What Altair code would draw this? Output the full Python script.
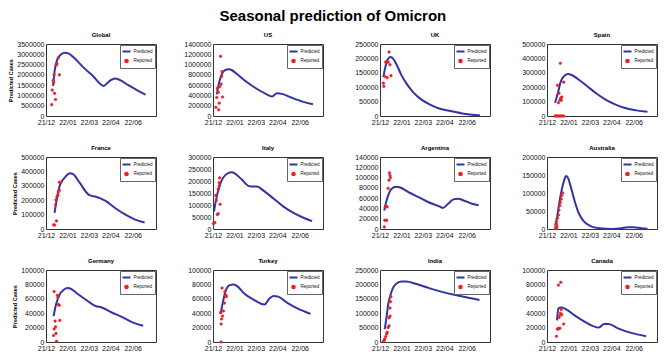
import altair as alt
import pandas as pd

BASE = pd.Timestamp("2021-12-01")

COUNTRIES = ["Global", "US", "UK", "Spain", "France", "Italy",
             "Argentina", "Australia", "Germany", "Turkey", "India", "Canada"]
Y_MAX = [3500000, 1400000, 250000, 500000, 500000, 300000,
         140000, 200000, 100000, 100000, 250000, 100000]
Y_STEP = [500000, 200000, 50000, 100000, 100000, 50000,
          20000, 50000, 20000, 20000, 50000, 20000]

# days since 2021-12-01 ; values in thousands of cases
GLOBAL_PRED_DAY = [15, 18, 24, 32, 40, 48, 59, 77, 99, 121, 128, 136, 145, 154, 172, 191, 209]
GLOBAL_PRED_VAL = [1460, 2170, 2760, 3000, 3080, 3030, 2830, 2400, 1930, 1460, 1590, 1740, 1820, 1760, 1510, 1260, 1040]
GLOBAL_REP_DAY = [12, 13, 15, 16, 17, 18, 20, 22, 23, 26, 28]
GLOBAL_REP_VAL = [550, 1260, 1730, 1620, 2000, 1100, 800, 2480, 2540, 2830, 2000]

US_PRED_DAY = [8, 12, 18, 25, 33, 40, 51, 68, 90, 111, 124, 134, 145, 164, 188, 210]
US_PRED_VAL = [420, 620, 800, 890, 910, 890, 810, 680, 540, 430, 380, 440, 430, 360, 280, 230]
US_REP_DAY = [6, 8, 9, 11, 12, 13, 14, 16, 17, 18, 19, 20]
US_REP_VAL = [170, 360, 540, 460, 120, 250, 570, 1160, 620, 770, 860, 370]

UK_PRED_DAY = [7, 15, 22, 28, 35, 45, 55, 69, 83, 104, 124, 145, 173, 210]
UK_PRED_VAL = [135, 192, 205, 198, 178, 142, 114, 84, 62, 40, 26, 18, 9, 2]
UK_REP_DAY = [7, 8, 10, 12, 14, 15, 17, 19, 21, 23]
UK_REP_VAL = [114, 103, 137, 187, 189, 133, 187, 222, 178, 140]

SPAIN_PRED_DAY = [17, 24, 28, 35, 44, 52, 64, 84, 103, 123, 143, 162, 188, 211]
SPAIN_PRED_VAL = [92, 175, 230, 274, 292, 285, 259, 208, 158, 114, 81, 57, 39, 29]
SPAIN_REP_DAY = [17, 19, 21, 22, 23, 24, 25, 26, 27, 28, 28, 29, 30, 30, 31, 33, 35, 35]
SPAIN_REP_VAL = [0, 0, 0, 213, 0, 92, 158, 0, 110, 366, 0, 125, 110, 0, 132, 0, 235, 0]

FRANCE_PRED_DAY = [18, 23, 29, 40, 50, 57, 70, 91, 105, 125, 145, 166, 186, 207]
FRANCE_PRED_VAL = [112, 213, 303, 359, 388, 381, 325, 235, 224, 195, 146, 101, 67, 45]
FRANCE_REP_DAY = [16, 18, 20, 21, 22, 23, 25, 26, 28, 28, 31]
FRANCE_REP_VAL = [29, 27, 168, 202, 56, 224, 235, 258, 269, 325, 325]

ITALY_PRED_DAY = [2, 7, 14, 21, 32, 39, 46, 60, 74, 81, 92, 106, 127, 148, 169, 190, 208]
ITALY_PRED_VAL = [73, 127, 180, 213, 233, 236, 231, 207, 180, 177, 177, 160, 127, 93, 67, 47, 33]
ITALY_REP_DAY = [1, 4, 6, 7, 9, 11, 11, 13, 13, 14, 15]
ITALY_REP_VAL = [23, 27, 140, 120, 60, 64, 167, 180, 193, 213, 103]

ARG_PRED_DAY = [9, 12, 17, 24, 34, 41, 61, 81, 102, 122, 132, 143, 153, 163, 177, 190, 207]
ARG_PRED_VAL = [36, 49, 65, 78, 82, 81, 71, 62, 52, 45, 41, 49, 57, 59, 55, 50, 46]
ARG_REP_DAY = [9, 10, 11, 12, 13, 14, 15, 17, 19, 20, 21, 22]
ARG_REP_VAL = [4, 17, 43, 17, 44, 17, 43, 79, 95, 109, 104, 100]

AUS_PRED_DAY = [17, 22, 26, 31, 36, 40, 44, 50, 58, 67, 77, 90, 110, 136, 156, 169, 182, 198, 211]
AUS_PRED_VAL = [9, 39, 74, 109, 135, 147, 142, 117, 78, 43, 22, 9, 2, 0, 2, 5, 5, 2, 0.5]
AUS_REP_DAY = [18, 19, 20, 20, 21, 22, 24, 25, 27, 28, 30, 31, 33]
AUS_REP_VAL = [4, 1, 13, 20, 6, 30, 39, 52, 65, 74, 83, 93, 100]

GER_PRED_DAY = [16, 21, 28, 38, 45, 52, 66, 83, 104, 117, 138, 159, 183, 204]
GER_PRED_VAL = [36, 52, 65, 73, 75, 74, 67, 59, 50, 48, 41, 35, 27, 22.5]
GER_REP_DAY = [16, 17, 17, 19, 20, 21, 22, 24, 25, 26, 28, 29]
GER_REP_VAL = [9, 18, 70, 29, 21, 12, 1, 65, 62, 52, 51, 30]

TUR_PRED_DAY = [16, 21, 27, 35, 43, 50, 66, 85, 108, 118, 127, 137, 157, 176, 205]
TUR_PRED_VAL = [39, 56, 72, 79, 80, 78, 67, 59, 52, 60, 64, 63, 54, 47, 39]
TUR_REP_DAY = [16, 17, 17, 18, 19, 20, 22, 24, 25, 26, 27, 28]
TUR_REP_VAL = [41, 25, 0, 32, 75, 36, 43, 54, 70, 65, 65, 63]

IND_PRED_DAY = [10, 14, 17, 22, 27, 34, 45, 55, 75, 103, 130, 158, 185, 209]
IND_PRED_VAL = [45, 90, 129, 163, 187, 202, 210, 210, 202, 187, 174, 163, 154, 146]
IND_REP_DAY = [7, 9, 10, 12, 14, 15, 17, 19, 19, 21, 21, 22, 23]
IND_REP_VAL = [2, 6, 11, 19, 28, 34, 50, 56, 84, 90, 118, 140, 157]

CAN_PRED_DAY = [21, 24, 31, 41, 58, 77, 97, 109, 120, 129, 149, 175, 208]
CAN_PRED_VAL = [30, 47, 48, 45, 37, 29, 22, 20, 25, 25, 19, 13, 8]
CAN_REP_DAY = [20, 22, 23, 24, 24, 25, 26, 27, 28, 29, 30, 31, 35]
CAN_REP_VAL = [8, 18, 18, 79, 19, 34, 36, 19, 40, 83, 45, 38, 25]

SERIES = {
    "Global": (GLOBAL_PRED_DAY, GLOBAL_PRED_VAL, GLOBAL_REP_DAY, GLOBAL_REP_VAL),
    "US": (US_PRED_DAY, US_PRED_VAL, US_REP_DAY, US_REP_VAL),
    "UK": (UK_PRED_DAY, UK_PRED_VAL, UK_REP_DAY, UK_REP_VAL),
    "Spain": (SPAIN_PRED_DAY, SPAIN_PRED_VAL, SPAIN_REP_DAY, SPAIN_REP_VAL),
    "France": (FRANCE_PRED_DAY, FRANCE_PRED_VAL, FRANCE_REP_DAY, FRANCE_REP_VAL),
    "Italy": (ITALY_PRED_DAY, ITALY_PRED_VAL, ITALY_REP_DAY, ITALY_REP_VAL),
    "Argentina": (ARG_PRED_DAY, ARG_PRED_VAL, ARG_REP_DAY, ARG_REP_VAL),
    "Australia": (AUS_PRED_DAY, AUS_PRED_VAL, AUS_REP_DAY, AUS_REP_VAL),
    "Germany": (GER_PRED_DAY, GER_PRED_VAL, GER_REP_DAY, GER_REP_VAL),
    "Turkey": (TUR_PRED_DAY, TUR_PRED_VAL, TUR_REP_DAY, TUR_REP_VAL),
    "India": (IND_PRED_DAY, IND_PRED_VAL, IND_REP_DAY, IND_REP_VAL),
    "Canada": (CAN_PRED_DAY, CAN_PRED_VAL, CAN_REP_DAY, CAN_REP_VAL),
}

SERIES_NAMES = ["Predicted", "Reported"]
BLUE = "#3333a6"
RED = "#e3242b"
FONT = "Liberation Sans"
W, H = 110, 72

TICKS = [alt.DateTime(year=2021, month=12, date=1),
         alt.DateTime(year=2022, month=1, date=15),
         alt.DateTime(year=2022, month=3, date=1),
         alt.DateTime(year=2022, month=4, date=15),
         alt.DateTime(year=2022, month=6, date=1)]
X_DOMAIN = [alt.DateTime(year=2021, month=12, date=1),
            alt.DateTime(year=2022, month=7, date=20)]


def frame(days, vals, label):
    return pd.DataFrame({
        "date": [BASE + pd.Timedelta(days=d) for d in days],
        "v": [v * 1000 for v in vals],
        "s": label,
    })


def panel(i):
    name = COUNTRIES[i]
    pdays, pvals, rdays, rvals = SERIES[name]
    x = alt.X("date:T", scale=alt.Scale(domain=X_DOMAIN),
              axis=alt.Axis(values=TICKS, format="%y/%m", title=None))
    ymax, ystep = Y_MAX[i], Y_STEP[i]
    y = alt.Y("v:Q", scale=alt.Scale(domain=[0, ymax], nice=False, zero=True),
              axis=alt.Axis(values=list(range(0, ymax + 1, ystep)), format="d",
                            title="Predicted Cases" if i % 4 == 0 else None))
    color = alt.Color("s:N", scale=alt.Scale(domain=SERIES_NAMES, range=[BLUE, RED]),
                      legend=alt.Legend(title=None))
    line = alt.Chart(frame(pdays, pvals, "Predicted")).mark_line(
        strokeWidth=2, interpolate="monotone"
    ).encode(x=x, y=y, color=color)
    pts = alt.Chart(frame(rdays, rvals, "Reported")).mark_point(
        filled=True, opacity=1, strokeWidth=0.5
    ).encode(
        x=x, y=y, color=color,
        stroke=alt.Stroke("s:N", scale=alt.Scale(domain=SERIES_NAMES, range=[BLUE, RED]),
                          legend=alt.Legend(title=None)),
        shape=alt.Shape("s:N", scale=alt.Scale(domain=SERIES_NAMES, range=["stroke", "circle"]),
                        legend=alt.Legend(title=None)),
        size=alt.Size("s:N", scale=alt.Scale(domain=SERIES_NAMES, range=[64, 7]),
                      legend=alt.Legend(title=None)),
    )
    return alt.layer(line, pts).properties(
        width=W, height=H,
        title=alt.TitleParams(name, fontSize=6, fontWeight="bold", offset=2, font=FONT),
    )


chart = alt.concat(
    *[panel(i) for i in range(12)],
    columns=4,
    spacing={"row": 41, "column": 57},
    bounds="flush",
).resolve_scale(
    x="independent", y="independent", color="independent",
    stroke="independent", shape="independent", size="independent"
).properties(
    title=alt.TitleParams("Seasonal prediction of Omicron", fontSize=15,
                          fontWeight="bold", anchor="middle", offset=8, font=FONT),
    padding=0,
    background="white",
).configure(
    font=FONT
).configure_view(
    stroke="#333", strokeWidth=1
).configure_axis(
    domain=False, ticks=False, grid=False, labelFontSize=7, labelColor="#111",
    labelPadding=2, titleFontSize=5.5, titleFontWeight="bold", titlePadding=3,
    labelOverlap=False, labelFlush=False, labelFont=FONT, titleFont=FONT,
).configure_legend(
    orient="top-right", offset=1, padding=1.5, labelFontSize=4.5, labelOffset=2,
    rowPadding=0, strokeColor="#666", fillColor="white", labelFont=FONT,
    labelColor="#111", symbolStrokeWidth=2,
)

chart.save("out.html", embed_options={"renderer": "svg", "actions": False})
